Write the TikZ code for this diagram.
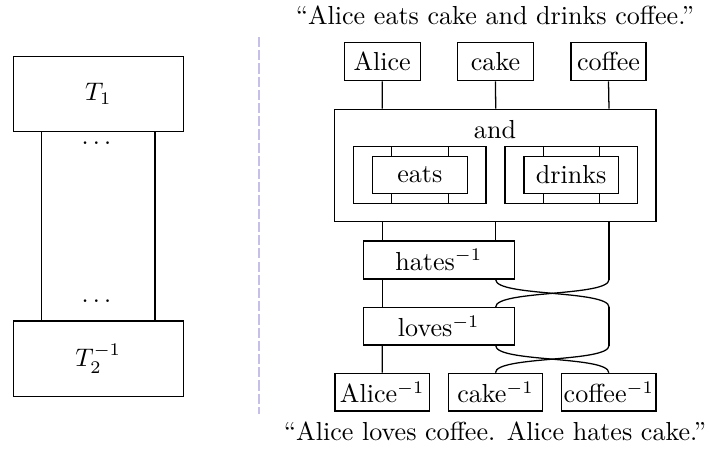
\documentclass[tikz,border=0pt]{standalone}
\usetikzlibrary{calc}
\definecolor{sepcol}{RGB}{196,192,232}
\begin{document}
\def\u{0.3937pt}
\begin{tikzpicture}[x=0.3937pt,y=-0.3937pt,
  every node/.style={font=\fontsize{10.26pt}{12pt}\selectfont},
  box/.style={draw,line width=0.5pt,inner sep=0pt},
  wire/.style={line width=0.5pt},
  sep/.style={draw=sepcol,line width=0.9pt,dash pattern=on 4pt off 1.2pt},
  quote/.style={anchor=base,inner sep=0pt}]
\useasboundingbox (0,0) rectangle (710,452);
% ---------- left ----------
\node[box,minimum width=170*\u,minimum height=75*\u] (T1) at (98.3,94.2) {$T_1$};
\node[box,minimum width=170*\u,minimum height=75.7*\u] (T2) at (98.3,358.8) {$T_2^{-1}$};
\coordinate (lw1) at (41.7,0);
\coordinate (lw2) at (155,0);
\draw[wire] (T1.south -| lw1) -- (T2.north -| lw1);
\draw[wire] (T1.south -| lw2) -- (T2.north -| lw2);
\node[inner sep=0pt] (d1) at (96.5,143) {$\ldots$};
\node[inner sep=0pt] (d2) at (96.5,301) {$\ldots$};
% separator
\coordinate (s1) at (259,37);
\coordinate (s2) at (259,414);
\draw[sep] (s1) -- (s2);
% ---------- right ----------
\node[quote] (q1) at (495,25) {``Alice eats cake and drinks coffee.''};
\node[quote] (q2) at (495,441) {``Alice loves coffee. Alice hates cake.''};
\node[box,minimum width=76*\u,minimum height=38*\u] (alice) at (382.2,61.7) {Alice};
\node[box,minimum width=75.6*\u,minimum height=38*\u] (cake) at (495.5,61.7) {cake};
\node[box,minimum width=75*\u,minimum height=38*\u] (coffee) at (608.5,61.7) {coffee};
\node[box,minimum width=321.7*\u,minimum height=112.4*\u] (and) at (495.2,165.5) {};
\node[inner sep=0pt] (andl) at (495,129.3) {and};
\node[box,minimum width=132.7*\u,minimum height=56.6*\u] (eo) at (419.7,175) {};
\node[box,minimum width=95*\u,minimum height=37.3*\u] (ei) at (419.8,175) {eats};
\node[box,minimum width=132.3*\u,minimum height=56.6*\u] (do) at (571.2,175) {};
\node[box,minimum width=94.3*\u,minimum height=37.3*\u] (di) at (571.2,175) {drinks};
\node[box,minimum width=151*\u,minimum height=38*\u] (hates) at (438.8,260) {hates$^{-1}$};
\node[box,minimum width=151*\u,minimum height=37.3*\u] (loves) at (438.8,326.3) {loves$^{-1}$};
\node[box,minimum width=94.3*\u,minimum height=37.7*\u] (alicei) at (382.2,392.2) {Alice$^{-1}$};
\node[box,minimum width=94.4*\u,minimum height=37.7*\u] (cakei) at (495.5,392.2) {cake$^{-1}$};
\node[box,minimum width=94.3*\u,minimum height=37.7*\u] (coffeei) at (608.8,392.2) {coffee$^{-1}$};
% wire x positions
\coordinate (xa) at (382.3,0);
\coordinate (xb) at (495.7,0);
\coordinate (xc) at (609,0);
% top wires
\draw[wire] (alice.south) -- (and.north -| xa);
\draw[wire] (cake.south) -- (and.north -| xb);
\draw[wire] (coffee.south) -- (and.north -| xc);
% inner wires
\foreach \xx/\o/\i in {391.7/eo/ei,448.3/eo/ei,543.3/do/di,599.3/do/di}{
  \coordinate (tmp) at (\xx,0);
  \draw[wire] (\o.north -| tmp) -- (\i.north -| tmp);
  \draw[wire] (\i.south -| tmp) -- (\o.south -| tmp);
}
% below and
\draw[wire] (and.south -| xa) -- (hates.north -| xa);
\draw[wire] (and.south -| xb) -- (hates.north -| xb);
\coordinate (c1) at (hates.south -| xc);
\draw[wire] (and.south -| xc) -- (c1);
\draw[wire] (hates.south -| xa) -- (loves.north -| xa);
\draw[wire] (loves.south -| xa) -- (alicei.north);
% crossing 1
\draw[wire] (hates.south -| xb) .. controls ($(hates.south -| xb)+(0,17)$) and ($(loves.north -| xc)+(0,-17)$) .. (loves.north -| xc);
\draw[wire] (c1) .. controls ($(c1)+(0,17)$) and ($(loves.north -| xb)+(0,-17)$) .. (loves.north -| xb);
\draw[wire] (loves.north -| xc) -- (loves.south -| xc);
% crossing 2
\draw[wire] (loves.south -| xb) .. controls ($(loves.south -| xb)+(0,17)$) and ($(coffeei.north)+(0,-17)$) .. (coffeei.north);
\draw[wire] (loves.south -| xc) .. controls ($(loves.south -| xc)+(0,17)$) and ($(cakei.north)+(0,-17)$) .. (cakei.north);
\end{tikzpicture}
\end{document}
